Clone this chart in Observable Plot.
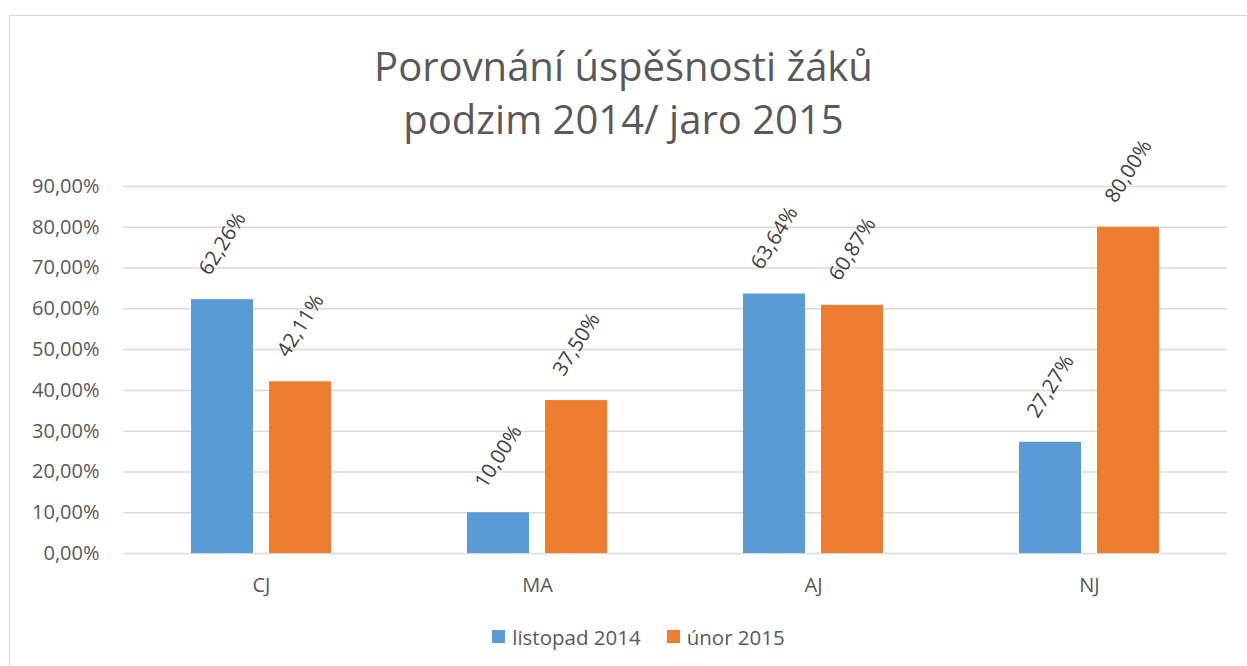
<!DOCTYPE html>
<html><head><meta charset="utf-8">
<script src="https://cdn.jsdelivr.net/npm/d3@7"></script>
<script src="https://cdn.jsdelivr.net/npm/@observablehq/plot@0.6"></script>
<style>
body{margin:0;background:#fff;font-family:"Open Sans",sans-serif;}
#wrap{position:relative;width:1247px;height:666px;overflow:hidden;background:#fff;}
#frame{position:absolute;left:9px;top:15px;width:1240px;height:700px;border:1.5px solid #d9d9d9;box-sizing:border-box;}
#title{position:absolute;left:0;width:1247px;top:39px;text-align:center;font-size:40px;line-height:53px;color:#595959;}
#plot{position:absolute;left:0;top:0;}
#legend{position:absolute;top:621px;left:15px;width:1247px;text-align:center;font-size:20.5px;color:#595959;}
.it{display:inline-flex;align-items:center;margin:0 13px;}
.sw{display:inline-block;width:13px;height:13px;margin-right:7px;}
</style></head>
<body>
<div id="wrap">
<div id="frame"></div>
<div id="title">Porovnání úspěšnosti žáků<br>podzim 2014/ jaro 2015</div>
<div id="plot"></div>
<div id="legend"></div>
</div>
<script>
const categories = ["CJ", "MA", "AJ", "NJ"];
const seriesNames = ["listopad 2014", "únor 2015"];
const listopad2014 = [0.6226, 0.1000, 0.6364, 0.2727];
const unor2015 = [0.4211, 0.3750, 0.6087, 0.8000];
const yTicks = [0, 0.1, 0.2, 0.3, 0.4, 0.5, 0.6, 0.7, 0.8, 0.9];
const colors = ["#5B9BD5", "#ED7D31"];

const data = [];
categories.forEach((c, i) => {
  data.push({cat: c, series: seriesNames[0], value: listopad2014[i]});
  data.push({cat: c, series: seriesNames[1], value: unor2015[i]});
});
const fmt = (d, digits) => (d * 100).toFixed(digits).replace(".", ",") + "%";

const chart = Plot.plot({
  width: 1247,
  height: 666,
  marginLeft: 122,
  marginRight: 19,
  marginTop: 186,
  marginBottom: 113,
  style: {fontFamily: "Open Sans, sans-serif", background: "transparent", overflow: "visible"},
  fx: {domain: categories, padding: 0, label: null},
  x: {domain: seriesNames, paddingInner: 0.205, paddingOuter: 0.86, axis: null},
  y: {domain: [0, 0.9], axis: null},
  color: {domain: seriesNames, range: colors},
  marks: [
    Plot.ruleY(yTicks, {stroke: "#d9d9d9", strokeWidth: 1.5}),
    Plot.axisY(yTicks, {tickSize: 0, tickPadding: 24, tickFormat: d => fmt(d, 2), fontSize: 20, color: "#595959", label: null}),
    Plot.axisFx({tickSize: 0, tickPadding: 24, fontSize: 20, color: "#595959", label: null, anchor: "bottom"}),
    Plot.barY(data, {fx: "cat", x: "series", y: "value", fill: "series"}),
    Plot.text(data, {fx: "cat", x: "series", y: "value", text: d => fmt(d.value, 2), rotate: -58, dy: -56, textAnchor: "middle", fontSize: 20.5, fill: "#404040"})
  ]
});
document.getElementById("plot").appendChild(chart);

const legend = document.getElementById("legend");
seriesNames.forEach((s, i) => {
  const it = document.createElement("span");
  it.className = "it";
  const sw = document.createElement("span");
  sw.className = "sw";
  sw.style.background = colors[i];
  it.appendChild(sw);
  it.appendChild(document.createTextNode(s));
  legend.appendChild(it);
});
</script>
</body></html>
